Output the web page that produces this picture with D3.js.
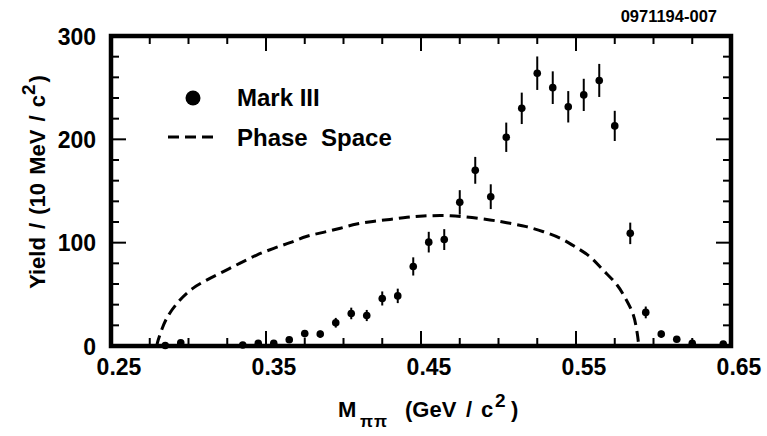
<!DOCTYPE html>
<html>
<head>
<meta charset="utf-8">
<script src="https://cdn.jsdelivr.net/npm/d3@7"></script>
<style>
  html, body { margin: 0; padding: 0; background: #fff; }
  svg text { font-family: "Liberation Sans", Arial, Helvetica, sans-serif; font-weight: bold; fill: #000; }
</style>
</head>
<body>
<svg id="chart" width="767" height="436"></svg>
<script>
// Mark III pi-pi invariant mass spectrum, 10 MeV bins
const binCenters = [0.285, 0.295, 0.335, 0.345, 0.355, 0.365, 0.375, 0.385, 0.395, 0.405,
                    0.415, 0.425, 0.435, 0.445, 0.455, 0.465, 0.475, 0.485, 0.495, 0.505,
                    0.515, 0.525, 0.535, 0.545, 0.555, 0.565, 0.575, 0.585, 0.595, 0.605,
                    0.615, 0.625, 0.645];
const yields     = [0.5, 3, 1, 2.5, 2.5, 6, 12, 11.5, 22.5, 31.5,
                    29.5, 46, 48.5, 77, 100.5, 103, 139, 170, 144.5, 202,
                    230, 264, 250, 231.5, 243, 257, 213, 109, 32.5, 11.5,
                    6.5, 2.5, 2];
const yieldErrors = [0.7, 1.7, 1, 1.6, 1.6, 2.5, 3.5, 3.4, 4.7, 5.6,
                     5.4, 6.8, 7, 8.8, 10, 10.1, 11.8, 13, 12, 14.2,
                     15.2, 16.2, 15.8, 15.2, 15.6, 16, 14.6, 10.4, 5.7, 3.4,
                     2.5, 1.6, 1.4];

// Phase-space expectation
const psMass  = [0.2795, 0.2805, 0.286, 0.2945, 0.303, 0.312, 0.3225, 0.333, 0.344, 0.355,
                 0.3655, 0.376, 0.387, 0.398, 0.4085, 0.419, 0.43, 0.441, 0.4515, 0.469,
                 0.4945, 0.5075, 0.518, 0.529, 0.54, 0.5495, 0.559, 0.5675, 0.5765, 0.5825,
                 0.587, 0.5895, 0.5905];
const psYield = [0, 6, 27, 44.5, 56, 64, 72, 80, 88, 94.5,
                 100, 106, 110, 114, 118, 120.5, 122.5, 124.5, 125.8, 126,
                 122, 118.7, 115.5, 110.6, 104.2, 96, 86.4, 73.5, 59, 44.5,
                 30, 12.3, 0];

const xTickLabels = [0.25, 0.35, 0.45, 0.55, 0.65];
const yTickLabels = [0, 100, 200, 300];
const legendLabels = ["Mark III", "Phase  Space"];

const svg = d3.select("#chart");
const margin = { left: 111, right: 36, top: 36, bottom: 90 };
const W = 767, H = 436;
const x = d3.scaleLinear().domain([0.25, 0.65]).range([margin.left, W - margin.right]);
const y = d3.scaleLinear().domain([0, 300]).range([H - margin.bottom, margin.top]);

const x0 = x.range()[0], x1 = x.range()[1];
const y0 = y.range()[0], y1 = y.range()[1];

// ticks on all four sides, pointing inward
const xMinor = d3.range(0, 17).map(i => 0.25 + i * 0.025);
const yMinor = d3.range(0, 16).map(i => i * 20);
const isMajorX = v => Math.abs(((v - 0.25) / 0.1) - Math.round((v - 0.25) / 0.1)) < 1e-6;
const isMajorY = v => v % 100 === 0;

const ticks = svg.append("g").attr("stroke", "#000").attr("stroke-width", 2);
xMinor.forEach(v => {
  const len = isMajorX(v) ? 15 : 8;
  ticks.append("line").attr("x1", x(v)).attr("x2", x(v)).attr("y1", y0).attr("y2", y0 - len);
  ticks.append("line").attr("x1", x(v)).attr("x2", x(v)).attr("y1", y1).attr("y2", y1 + len);
});
yMinor.forEach(v => {
  const len = isMajorY(v) ? 15 : 8;
  ticks.append("line").attr("y1", y(v)).attr("y2", y(v)).attr("x1", x0).attr("x2", x0 + len);
  ticks.append("line").attr("y1", y(v)).attr("y2", y(v)).attr("x1", x1).attr("x2", x1 - len);
});

// frame
svg.append("rect")
  .attr("x", x0).attr("y", y1)
  .attr("width", x1 - x0).attr("height", y0 - y1)
  .attr("fill", "none").attr("stroke", "#000").attr("stroke-width", 4.5);

// tick labels
svg.append("g").selectAll("text").data(xTickLabels).join("text")
  .attr("x", d => x(d) + 8).attr("y", y0 + 29)
  .attr("text-anchor", "middle").attr("font-size", 23)
  .text(d => d3.format(".2f")(d));

svg.append("g").selectAll("text").data(yTickLabels).join("text")
  .attr("x", x0 - 15).attr("y", d => y(d) + 8.5)
  .attr("text-anchor", "end").attr("font-size", 23)
  .text(d => d);

// phase-space curve
const line = d3.line().x((d, i) => x(psMass[i])).y(d => y(d)).curve(d3.curveCatmullRom);
svg.append("path")
  .attr("d", line(psYield))
  .attr("fill", "none").attr("stroke", "#000").attr("stroke-width", 3)
  .attr("stroke-dasharray", "11,6");

// data points with error bars
const pts = svg.append("g");
pts.selectAll("line").data(yields).join("line")
  .attr("x1", (d, i) => x(binCenters[i])).attr("x2", (d, i) => x(binCenters[i]))
  .attr("y1", (d, i) => y(d - yieldErrors[i])).attr("y2", (d, i) => y(d + yieldErrors[i]))
  .attr("stroke", "#000").attr("stroke-width", 2);
pts.selectAll("circle").data(yields).join("circle")
  .attr("cx", (d, i) => x(binCenters[i])).attr("cy", d => y(d))
  .attr("r", 3.8).attr("fill", "#000");

// legend
const lg = svg.append("g");
lg.append("circle").attr("cx", 193).attr("cy", 98).attr("r", 7.5).attr("fill", "#000");
lg.append("text").attr("x", 237).attr("y", 106).attr("font-size", 24).text(legendLabels[0]);
lg.append("line").attr("x1", 168).attr("x2", 216).attr("y1", 137).attr("y2", 137)
  .attr("stroke", "#000").attr("stroke-width", 3).attr("stroke-dasharray", "11,6");
lg.append("text").attr("x", 237).attr("y", 146).attr("font-size", 24)
  .attr("xml:space", "preserve").style("white-space", "pre").text(legendLabels[1]);

// x-axis title: M_ππ (GeV / c²)
const xt = svg.append("g").attr("font-size", 22);
xt.append("text").attr("x", 338).attr("y", 417).text("M");
xt.append("text").attr("x", 360).attr("y", 427).attr("font-size", 17)
  .attr("letter-spacing", 1).text("ππ");
xt.append("text").attr("x", 405).attr("y", 417).text("(GeV");
xt.append("text").attr("x", 466).attr("y", 417).text("/");
xt.append("text").attr("x", 481).attr("y", 417).text("c");
xt.append("text").attr("x", 495).attr("y", 407).attr("font-size", 19).text("2");
xt.append("text").attr("x", 511).attr("y", 417).text(")");

// y-axis title
const yt = svg.append("text")
  .attr("transform", "translate(45,182) rotate(-90)")
  .attr("text-anchor", "middle").attr("font-size", 22).attr("word-spacing", 2);
yt.append("tspan").text("Yield / (10 MeV / c");
yt.append("tspan").attr("dy", -10).attr("font-size", 19).text("2");
yt.append("tspan").attr("dy", 10).attr("dx", 2).text(")");

// figure id
svg.append("text").attr("x", 717).attr("y", 22).attr("text-anchor", "end")
  .attr("font-size", 16.5).text("0971194-007");
</script>
</body>
</html>
